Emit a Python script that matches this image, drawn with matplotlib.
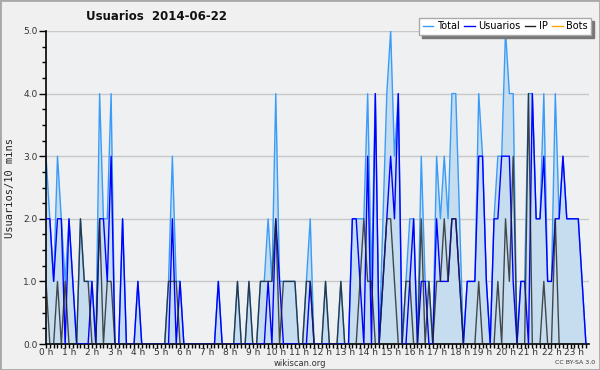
import numpy as np
import matplotlib
matplotlib.use('Agg')
import matplotlib.pyplot as plt
from matplotlib.patches import Rectangle
from matplotlib.lines import Line2D

# 10-minute slots, one row per hour
total = [3, 2, 1, 3, 2, 1,
         2, 1, 0, 2, 1, 1,
         1, 0, 4, 2, 2, 4,
         0, 0, 2, 0, 0, 0,
         1, 0, 0, 0, 0, 0,
         0, 0, 1, 3, 1, 1,
         0, 0, 0, 0, 0, 0,
         0, 0, 0, 1, 0, 0,
         0, 0, 1, 0, 0, 1,
         0, 0, 1, 1, 2, 1,
         4, 1, 1, 1, 1, 1,
         0, 0, 1, 2, 0, 0,
         0, 1, 0, 0, 0, 1,
         0, 0, 2, 2, 2, 2,
         4, 1, 4, 0, 2, 4,
         5, 3, 4, 0, 1, 2,
         2, 0, 3, 1, 1, 0,
         3, 2, 3, 2, 4, 4,
         2, 0, 1, 1, 1, 4,
         3, 1, 0, 2, 3, 3,
         5, 4, 4, 0, 1, 1,
         4, 4, 2, 2, 4, 1,
         1, 4, 2, 3, 2, 2,
         2, 2, 1, 0]

usuarios = [2, 2, 1, 2, 2, 0,
            2, 1, 0, 0, 0, 0,
            1, 0, 2, 2, 1, 3,
            0, 0, 2, 0, 0, 0,
            1, 0, 0, 0, 0, 0,
            0, 0, 0, 2, 0, 1,
            0, 0, 0, 0, 0, 0,
            0, 0, 0, 1, 0, 0,
            0, 0, 0, 0, 0, 0,
            0, 0, 0, 0, 1, 0,
            2, 1, 0, 0, 0, 0,
            0, 0, 0, 1, 0, 0,
            0, 0, 0, 0, 0, 0,
            0, 0, 2, 2, 1, 0,
            3, 0, 4, 0, 1, 2,
            3, 2, 4, 0, 0, 1,
            2, 0, 1, 1, 0, 0,
            2, 1, 1, 1, 2, 2,
            1, 0, 1, 1, 1, 3,
            3, 1, 0, 2, 2, 3,
            3, 3, 1, 0, 1, 1,
            0, 4, 2, 2, 3, 1,
            1, 2, 2, 3, 2, 2,
            2, 2, 1, 0]

ip = [1, 0, 0, 1, 0, 1,
      0, 0, 0, 2, 1, 1,
      0, 0, 2, 0, 1, 1,
      0, 0, 0, 0, 0, 0,
      0, 0, 0, 0, 0, 0,
      0, 0, 1, 1, 1, 0,
      0, 0, 0, 0, 0, 0,
      0, 0, 0, 0, 0, 0,
      0, 0, 1, 0, 0, 1,
      0, 0, 1, 1, 1, 1,
      2, 0, 1, 1, 1, 1,
      0, 0, 1, 1, 0, 0,
      0, 1, 0, 0, 0, 1,
      0, 0, 0, 0, 1, 2,
      1, 1, 0, 0, 1, 2,
      2, 1, 0, 0, 1, 1,
      0, 0, 2, 0, 1, 0,
      1, 1, 2, 1, 2, 2,
      1, 0, 0, 0, 0, 1,
      0, 0, 0, 0, 1, 0,
      2, 1, 3, 0, 0, 0,
      4, 0, 0, 0, 1, 0,
      0, 2, 0, 0, 0, 0,
      0, 0, 0, 0]

hour_labels = ['%d h' % h for h in range(24)]
y_ticks = [0, 1, 2, 3, 4, 5]

x = np.arange(len(total))

fig = plt.figure(figsize=(6, 3.7), dpi=100, facecolor='#f0f0f0')
ax = fig.add_axes([46/600, 1-344/370, 543/600, 313/370])
ax.set_facecolor('#eef0f2')

# horizontal grid
for v in y_ticks[1:]:
    ax.axhline(v, color='#c8c8c8', lw=1, zorder=0)

ax.fill_between(x, total, color='#c6ddf0', lw=0, zorder=1)
ax.plot(x, total, color='#3a9cf8', lw=1, zorder=2)
ax.plot(x, usuarios, color='#0000ff', lw=1, zorder=3)
ax.plot(x, ip, color='#222222', lw=1, alpha=0.8, zorder=4)

ax.set_xlim(0, 141.8)
ax.set_ylim(0, 5)

ax.set_xticks(np.arange(0, 139, 6))
ax.set_xticklabels(hour_labels, fontsize=6.5, color='#333333')
ax.set_xticks(np.arange(0, 142, 1), minor=True)
ax.set_yticks(y_ticks)
ax.set_yticklabels(['%.1f' % v for v in y_ticks], fontsize=6.5, color='#333333')
ax.set_yticks(np.arange(0, 5.01, 0.25), minor=True)
ax.tick_params(axis='x', which='both', length=3, width=1, pad=0)
ax.tick_params(axis='y', which='major', length=5, width=1, pad=1)
ax.tick_params(axis='y', which='minor', length=3, width=1)

for s in ['top', 'right']:
    ax.spines[s].set_visible(False)
ax.spines['left'].set_linewidth(1.2)
ax.spines['bottom'].set_linewidth(1.2)

# texts
fig.text(157/600, 1-17/370, 'Usuarios  2014-06-22', ha='center', va='center',
         fontsize=8.5, fontweight='bold', color='#111111')
fig.text(10/600, 1-188/370, 'Usuarios/10 mins', rotation=90, ha='center', va='center',
         fontsize=7.5, family='DejaVu Sans Mono', color='#222222')
fig.text(300/600, 1-363/370, 'wikiscan.org', ha='center', va='center',
         fontsize=6, color='#333333')
fig.text(575/600, 1-363/370, 'CC BY-SA 3.0', ha='center', va='center',
         fontsize=4.5, color='#333333')

handles = [Line2D([], [], color='#3a9cf8', lw=1),
           Line2D([], [], color='#0000ff', lw=1),
           Line2D([], [], color='#222222', lw=1),
           Line2D([], [], color='#ffa500', lw=1)]
leg = fig.legend(handles, ['Total', 'Usuarios', 'IP', 'Bots'], ncol=4,
                 loc='upper right', bbox_to_anchor=(591/600, 1-18/370),
                 fontsize=7, frameon=True, fancybox=False,
                 shadow={'color': '#777777', 'alpha': 1},
                 handlelength=1.1, handletextpad=0.35, columnspacing=0.45,
                 borderpad=0.35, borderaxespad=0)
leg.get_frame().set_edgecolor('#aaaaaa')
leg.get_frame().set_linewidth(1)
leg.set_zorder(10)

fig.patches.append(Rectangle((0, 0), 1, 1, transform=fig.transFigure, fill=False,
                             edgecolor='#a8a8a8', lw=2))

fig.savefig('out.png', dpi=100, facecolor=fig.get_facecolor())
